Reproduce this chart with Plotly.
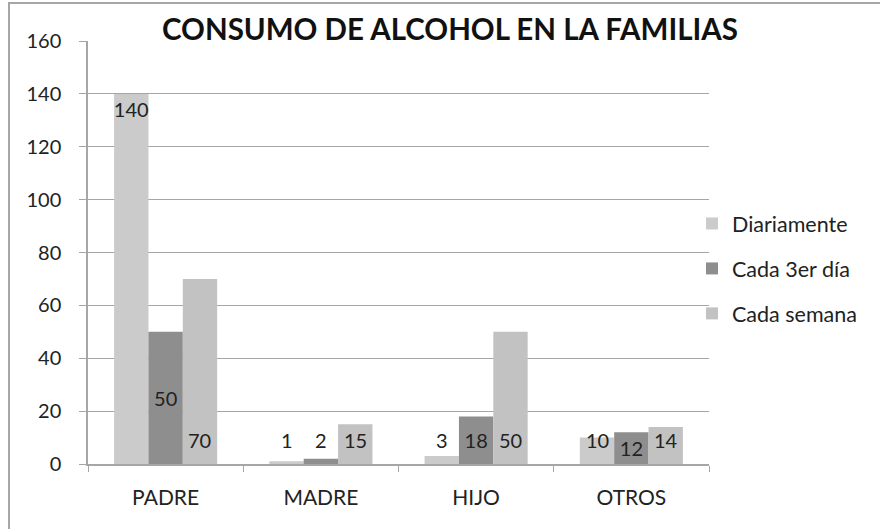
import plotly.graph_objects as go

categories = ["PADRE", "MADRE", "HIJO", "OTROS"]
diariamente = [140, 1, 3, 10]
cada_3er_dia = [50, 2, 18, 12]
cada_semana = [70, 15, 50, 14]
series_names = ["Diariamente", "Cada 3er día", "Cada semana"]
y_ticks = [0, 20, 40, 60, 80, 100, 120, 140, 160]

FONT = "Lato"
TXT = "#222222"

# label placement style per series: "bar" = library bar text, "base" = label near base
series = [
    (series_names[0], diariamente, "#cbcbcb", "end", ["bar", "base", "base", "base"]),
    (series_names[1], cada_3er_dia, "#8e8e8e", "middle", ["bar", "base", "bar", "bar"]),
    (series_names[2], cada_semana, "#c2c2c2", "start", ["base", "base", "base", "base"]),
]

L, R, T, B = 88, 171, 41, 65
pw, ph = 880 - L - R, 529 - T - B
BARGAP = 0.336
bar_px = pw / len(categories) * (1 - BARGAP) / len(series)

fig = go.Figure()
annotations = []
for i, (name, vals, color, anchor, mode) in enumerate(series):
    texts = [str(v) if m == "bar" else "" for v, m in zip(vals, mode)]
    fig.add_trace(go.Bar(
        name=name, x=categories, y=vals,
        marker=dict(color=color, line=dict(width=0)),
        text=texts, textposition="inside",
        insidetextanchor=anchor, textangle=0,
        textfont=dict(family=FONT, size=20, color=TXT),
        constraintext="none", cliponaxis=False,
        legendgroup=name,
    ))
    for c, v, m in zip(categories, vals, mode):
        if m == "base":
            annotations.append(dict(
                x=c, y=0, xref="x", yref="y", text=str(v), showarrow=False,
                xshift=(i - 1) * bar_px, yshift=24, yanchor="middle",
                font=dict(family=FONT, size=20, color=TXT),
            ))

fig.update_layout(
    width=880, height=529,
    margin=dict(l=L, r=R, t=T, b=B),
    paper_bgcolor="white", plot_bgcolor="white",
    barmode="group", bargap=BARGAP, bargroupgap=0,
    font=dict(family=FONT, size=20, color=TXT),
    title=dict(text="<b>CONSUMO DE ALCOHOL EN LA FAMILIAS</b>",
               x=450 / 880, xanchor="center", xref="container",
               y=1 - 30 / 529, yanchor="middle",
               font=dict(family=FONT, size=29.5, color="#111111")),
    legend=dict(x=(692 - L) / pw, xanchor="left", y=(464 - 268.5) / ph, yanchor="middle",
                font=dict(family=FONT, size=21.5, color=TXT),
                tracegroupgap=14, bgcolor="rgba(0,0,0,0)", itemclick=False),
    showlegend=True,
    annotations=annotations,
    shapes=[dict(type="rect", xref="paper", yref="paper",
                 x0=(9 - L) / pw, x1=5, y0=-5, y1=(464 - 3) / ph,
                 line=dict(color="#a6a6a6", width=2), layer="below")],
)
fig.update_xaxes(
    showline=True, linecolor="#a6a6a6", linewidth=1.5,
    ticks="outside", tickson="boundaries", ticklen=6, tickcolor="#a6a6a6",
    showgrid=False, ticklabelstandoff=14,
    tickfont=dict(family=FONT, size=21, color=TXT),
)
fig.update_yaxes(
    range=[0, 160], tickvals=y_ticks,
    showline=True, linecolor="#a6a6a6", linewidth=1.5,
    ticks="outside", ticklen=7, tickcolor="#a6a6a6",
    showgrid=True, gridcolor="#a6a6a6", gridwidth=1.2,
    zeroline=False, ticklabelstandoff=14,
    tickfont=dict(family=FONT, size=20, color=TXT),
)

fig.write_html(
    "out.html",
    config={"displayModeBar": False},
    post_script="document.body.style.margin='0';document.body.style.overflow='hidden';",
)
